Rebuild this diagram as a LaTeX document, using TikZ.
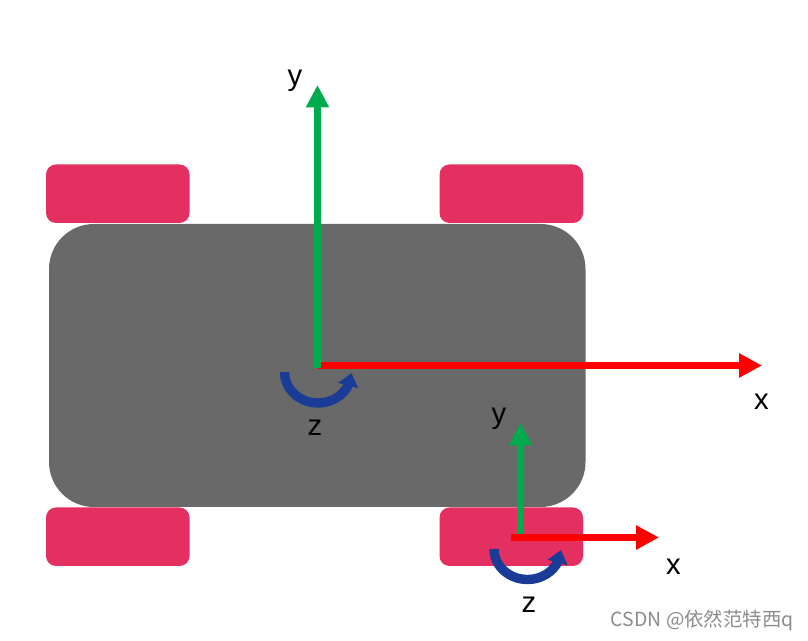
\documentclass[tikz,border=0pt]{standalone}
\usepackage{fontspec}
\setmainfont{Liberation Sans}
\newfontfamily\cjkwm{Noto Sans CJK SC}
\usetikzlibrary{arrows.meta,bending}
\definecolor{wheelred}{HTML}{E33060}
\definecolor{bodygray}{HTML}{696969}
\definecolor{axisgreen}{HTML}{00AB4E}
\definecolor{spinblue}{HTML}{1A3B96}
\tikzset{
  wheel/.style={fill=wheelred,rounded corners=0.3cm},
  axisx/.style={red,line width=6pt,-{Triangle[length=19.5pt,width=19.5pt]}},
  axisy/.style={axisgreen,line width=6.6pt,-{Triangle[length=19pt,width=18.5pt]}},
  spin/.style={spinblue,line width=8pt,-{Triangle[length=11pt,width=17pt,flex]}},
  axlabel/.style={font=\fontsize{25}{29}\selectfont,text=black,inner sep=0pt}
}
\begin{document}
\begin{tikzpicture}[x=0.03cm,y=0.03cm]
  \useasboundingbox (0,0) rectangle (808,640);
  \fill[white] (0,0) rectangle (808,640);
  % wheels
  \foreach \wx in {46,439.5}
    \foreach \wy in {74,417}
      \fill[wheel] (\wx,\wy) rectangle ++(143.5,58.5);
  \fill[bodygray,rounded corners=1.35cm] (49,133) rectangle (585.5,416);
  % big frame
  \coordinate (o1) at (317.5,274.5);
  \coordinate (o1b) at (317.5,272);
  \coordinate (x1) at (762,274.5);
  \coordinate (y1) at (317.5,555);
  \draw[axisx] (o1) -- (x1);
  \draw[axisy] (o1b) -- (y1);
  \draw[spin] (284.5,268) arc[start angle=180,end angle=358,x radius=33.5,y radius=31];
  \node[axlabel] (ly1) at (295,559) {y};
  \node[axlabel] (lx1) at (761.5,238) {x};
  \node[axlabel] (lz1) at (315,212) {z};
  % wheel frame
  \coordinate (o2) at (511,102.5);
  \coordinate (o2b) at (520.5,106);
  \coordinate (x2) at (659,102.5);
  \coordinate (y2) at (520.5,217);
  \draw[axisy] (o2b) -- (y2);
  \draw[axisx] (o2) -- (x2);
  \draw[spin] (494,91) arc[start angle=180,end angle=358,x radius=33.5,y radius=30.5];
  \node[axlabel] (ly2) at (499,221) {y};
  \node[axlabel] (lx2) at (673.5,73) {x};
  \node[axlabel] (lz2) at (529,35) {z};
  % watermark
  \node[font=\cjkwm\fontsize{16.6}{18}\selectfont,text=gray!90,anchor=east,inner sep=0pt] (mark) at (794,20) {CSDN @依然范特西q};
\end{tikzpicture}
\end{document}
